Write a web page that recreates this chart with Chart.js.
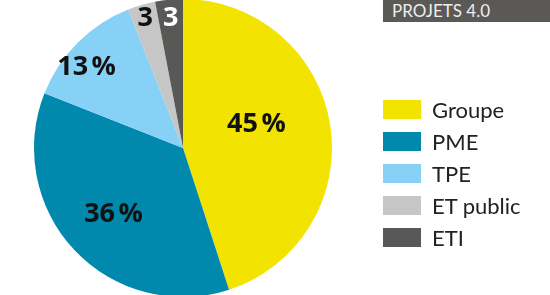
<!DOCTYPE html>
<html>
<head>
<meta charset="utf-8">
<script src="https://cdn.jsdelivr.net/npm/chart.js@4"></script>
<style>
    html, body { margin: 0; padding: 0; background: #fff; }
    #wrap { position: relative; width: 550px; height: 295px; overflow: hidden; }
    #pieChart { position: absolute; left: 0; top: -1px; }
    .tag {
        position: absolute; left: 383px; top: 0; width: 167px; height: 22px;
        background: #5a5955; color: #eeeeee; font: 17px 'Lato', sans-serif;
        line-height: 22px; padding-left: 9px; box-sizing: border-box;
    }
    #legend { position: absolute; left: 383px; top: 93px; font: 22px 'Lato', sans-serif; color: #222; }
    .row { height: 32px; display: flex; align-items: center; }
    .box { width: 38px; height: 19px; margin-right: 11px; }
</style>
</head>
<body>
<div id="wrap">
    <canvas id="pieChart" width="550" height="298"></canvas>
    <div class="tag">PROJETS 4.0</div>
    <div id="legend"></div>
</div>
<script>
const categories = ['Groupe', 'PME', 'TPE', 'ET public', 'ETI'];
const shares = [45, 36, 13, 3, 3];
const sliceLabels = ['45\u202F%', '36\u202F%', '13\u202F%', '3', '3'];

const colors = ['#f2e300', '#0088ad', '#88d1f6', '#c6c6c6', '#585856'];
const labelColors = ['#111', '#111', '#111', '#111', '#fff'];
// radial position of each label (fraction of radius) and angle nudge (rad)
const labelRadius = [0.52, 0.64, 0.85, 0.91, 0.88];
const labelNudge = [-0.17, 0, -0.08, 0, 0];

const sliceText = {
    id: 'sliceText',
    afterDatasetsDraw(chart) {
        const ctx = chart.ctx;
        const meta = chart.getDatasetMeta(0);
        ctx.save();
        ctx.font = "bold 27px 'Open Sans', sans-serif";
        ctx.textAlign = 'center';
        ctx.textBaseline = 'middle';
        meta.data.forEach((arc, i) => {
            const a = (arc.startAngle + arc.endAngle) / 2 + labelNudge[i];
            const r = arc.outerRadius * labelRadius[i];
            ctx.fillStyle = labelColors[i];
            ctx.fillText(sliceLabels[i], arc.x + Math.cos(a) * r, arc.y + Math.sin(a) * r + 1);
        });
        ctx.restore();
    }
};

new Chart(document.getElementById('pieChart'), {
    type: 'pie',
    data: {
        labels: categories,
        datasets: [{
            data: shares,
            backgroundColor: colors,
            borderWidth: 0
        }]
    },
    options: {
        responsive: false,
        animation: false,
        layout: { padding: { left: 34, right: 218, top: 0, bottom: 0 } },
        plugins: {
            legend: { display: false },
            tooltip: { enabled: false }
        }
    },
    plugins: [sliceText]
});

// legend
const legend = document.getElementById('legend');
categories.forEach((name, i) => {
    const row = document.createElement('div');
    row.className = 'row';
    row.innerHTML = '<div class="box" style="background:' + colors[i] + '"></div>' + name;
    legend.appendChild(row);
});
</script>
</body>
</html>
